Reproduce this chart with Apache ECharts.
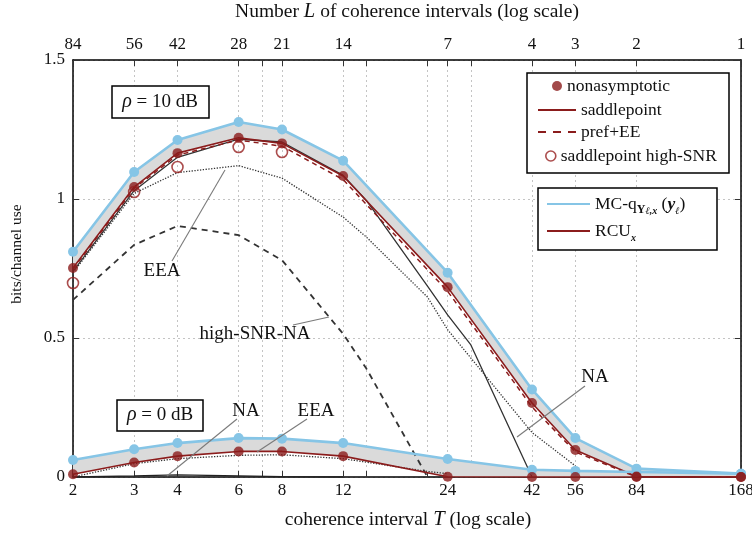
<!DOCTYPE html>
<html><head><meta charset="utf-8">
<script src="https://cdn.jsdelivr.net/npm/echarts@6/dist/echarts.min.js"></script>
<style>html,body{margin:0;padding:0;background:#fff}#c{width:752px;height:534px}</style>
</head><body><div id="c"></div>
<script>
// ---- data (T = coherence interval) ----
const T = [2, 3, 4, 6, 8, 12, 24, 42, 56, 84, 168];
// rho = 10 dB
const mcq10      = [0.81, 1.097, 1.212, 1.277, 1.25, 1.138, 0.735, 0.315, 0.14, 0.03, 0.012];
const nonasym10  = [0.752, 1.043, 1.165, 1.22, 1.2, 1.083, 0.683, 0.266, 0.097, 0.002, 0.0];
const saddle10   = [0.752, 1.043, 1.165, 1.22, 1.2, 1.083, 0.683, 0.266, 0.097, 0.002, 0.0];
const pref10     = [0.748, 1.038, 1.158, 1.212, 1.19, 1.07, 0.668, 0.252, 0.09, 0.0, 0.0];
const highSnrT   = [2, 3, 4, 6, 8];
const highSnr10  = [0.698, 1.025, 1.115, 1.187, 1.169];
const eeaT10     = [2, 3, 4, 6, 8, 12, 14, 21, 24, 42, 56];
const eea10      = [0.735, 1.02, 1.095, 1.12, 1.075, 0.935, 0.863, 0.647, 0.53, 0.16, 0.04];
const naT10      = [2, 3, 4, 6, 8, 12, 14, 21, 24, 28, 42];
const na10       = [0.74, 1.03, 1.15, 1.215, 1.205, 1.085, 0.995, 0.687, 0.583, 0.475, 0.0];
const hsnaT10    = [2, 3, 4, 6, 8, 12, 14, 21];
const hsna10     = [0.637, 0.835, 0.903, 0.87, 0.78, 0.515, 0.39, 0.0];
// rho = 0 dB
const mcq0       = [0.061, 0.10, 0.122, 0.14, 0.138, 0.122, 0.065, 0.026, 0.022, 0.018, 0.012];
const nonasym0   = [0.01, 0.052, 0.075, 0.092, 0.092, 0.075, 0.001, 0.0, 0.0, 0.0, 0.0];
const eeaT0      = [2, 3, 4, 6, 8, 12, 21, 24];
const eea0       = [0.0, 0.048, 0.066, 0.078, 0.08, 0.066, 0.02, 0.012];
const naT0       = [2, 3, 4, 6, 8, 12];
const na0        = [0.0, 0.004, 0.008, 0.004, 0.001, 0.0];
// axis ticks
const bottomTicks  = [2, 3, 4, 6, 7, 8, 12, 14, 21, 24, 28, 42, 56, 84, 168];
const bottomLabels = [2, 3, 4, 6, 8, 12, 24, 42, 56, 84, 168];
const topTicks     = [84, 56, 42, 28, 24, 21, 14, 12, 8, 7, 6, 4, 3, 2, 1];
const topLabels    = [84, 56, 42, 28, 21, 14, 7, 4, 3, 2, 1];

const FONT = 'Liberation Serif';
const RED = '#8b1c1c', BLUE = '#86c5e6', BAND = '#dadada', TXT = '#111';

function pairs(xs, ys) { return xs.map((x, i) => [x, ys[i]]); }
function band(upper, lower) {
  return {
    type: 'custom', silent: true, z: 1, data: [[2, 0]], clip: true,
    renderItem: (p, api) => {
      if (p.dataIndex !== 0) return;
      const pts = [];
      for (let i = 0; i < T.length; i++) pts.push(api.coord([T[i], upper[i]]));
      for (let i = T.length - 1; i >= 0; i--) pts.push(api.coord([T[i], lower[i]]));
      return { type: 'polygon', shape: { points: pts }, style: { fill: BAND } };
    }
  };
}
function line(name, xs, ys, ls, z) {
  return { type: 'line', name: name, data: pairs(xs, ys), symbol: 'none', silent: true,
           lineStyle: ls, itemStyle: { color: ls.color }, z: z || 2, animation: false };
}

const chart = echarts.init(document.getElementById('c'));
const axisLine = { show: true, onZero: false, lineStyle: { color: '#000', width: 1.5 } };
const lblStyle = { fontFamily: FONT, fontSize: 17, color: TXT };

const series = [
  band(mcq10, saddle10),
  band(mcq0, nonasym0),
  line('EEA10', eeaT10, eea10, { color: '#333', width: 1.3, type: [1.3, 1.5] }),
  line('EEA0', eeaT0, eea0, { color: '#333', width: 1.3, type: [1.3, 1.5] }),
  line('hsna10', hsnaT10, hsna10, { color: '#333', width: 1.8, type: [6, 5] }),
  line('NA10', naT10, na10, { color: '#333', width: 1.3 }),
  line('NA0', naT0, na0, { color: '#222', width: 1.3 }),
  line('pref+EE', T, pref10, { color: RED, width: 1.5, type: [5, 4] }, 3),
  line('saddlepoint', T, saddle10, { color: RED, width: 1.6 }, 3),
  line('RCU_x', T, nonasym0, { color: RED, width: 1.6 }, 3),
  { type: 'line', name: 'MC-q', data: pairs(T, mcq10), symbol: 'circle', symbolSize: 10, silent: true,
    lineStyle: { color: BLUE, width: 2.6 }, itemStyle: { color: BLUE }, z: 4, animation: false },
  { type: 'line', name: 'MC-q', data: pairs(T, mcq0), symbol: 'circle', symbolSize: 10, silent: true,
    lineStyle: { color: BLUE, width: 2.6 }, itemStyle: { color: BLUE }, z: 4, animation: false },
  { type: 'scatter', name: 'nonasymptotic', data: pairs(T, nonasym10), symbol: 'circle', symbolSize: 10,
    itemStyle: { color: RED }, silent: true, z: 5, animation: false },
  { type: 'scatter', name: 'nonasymptotic', data: pairs(T, nonasym0), symbol: 'circle', symbolSize: 10,
    itemStyle: { color: RED }, silent: true, z: 5, animation: false },
  { type: 'scatter', name: 'saddlepoint high-SNR', data: pairs(highSnrT, highSnr10), symbol: 'circle', symbolSize: 11,
    itemStyle: { color: 'rgba(255,255,255,0)', borderColor: '#962020', borderWidth: 1.6 }, silent: true, z: 6, animation: false }
];

const LF = 17.5;
const legTxt = {
  fontFamily: FONT, fontSize: LF, color: TXT, lineHeight: 20,
  rich: {
    a: { fontFamily: FONT, fontSize: LF, color: TXT, lineHeight: 24 },
    s: { fontFamily: FONT, fontSize: 12, fontWeight: 'bold', color: TXT, verticalAlign: 'bottom', lineHeight: 13 },
    ss: { fontFamily: FONT, fontSize: 10, fontWeight: 'bold', fontStyle: 'italic', color: TXT, verticalAlign: 'bottom', lineHeight: 11 },
    bi: { fontFamily: FONT, fontSize: LF, fontWeight: 'bold', fontStyle: 'italic', color: TXT, lineHeight: 24 }
  }
};
function legend(name, left, cy, w, h, icon, itemStyle, formatter, hh) {
  const o = { show: true, left: left, top: cy - (hh || 10), padding: 0, orient: 'horizontal', itemWidth: w, itemHeight: h,
    selectedMode: false, z: 10, textStyle: legTxt,
    data: [{ name: name, icon: icon, itemStyle: itemStyle }] };
  if (formatter) o.formatter = formatter;
  return o;
}

const legends = [
  legend('nonasymptotic', 552, 86, 10, 10, 'circle', { color: RED }),
  legend('saddlepoint', 538, 110, 38, 2, 'rect', { color: RED }),
  legend('pref+EE', 538, 132, 38, 2, 'path://M0,0h8v2h-8zM15,0h8v2h-8zM30,0h8v2h-8z', { color: RED }),
  legend('saddlepoint high-SNR', 545, 156, 10, 10, 'circle', { color: '#fff', borderColor: '#962020', borderWidth: 1.6 }),
  legend('MC-q', 547, 204, 43, 2, 'rect', { color: BLUE },
    () => '{a|MC-q}{s|Y}{ss|ℓ,x}{a| (}{bi|y}{ss|ℓ}{a|)}', 12),
  legend('RCU_x', 547, 231, 43, 2, 'rect', { color: RED },
    () => '{a|RCU}{ss|x}', 12)
];

function box(x, y, w, h) {
  return { type: 'rect', shape: { x: x, y: y, width: w, height: h }, z: 8,
           style: { fill: '#fff', stroke: '#000', lineWidth: 1.5 } };
}
function txt(x, y, text, size, extra) {
  const s = size || 18;
  return Object.assign({ type: 'text', x: x, y: y, z: 9,
    style: { text: text, fontFamily: FONT, fontSize: s, fill: TXT, align: 'center', verticalAlign: 'middle',
      rich: { i: { fontFamily: FONT, fontSize: s + 1, fontStyle: 'italic', fill: TXT } } } }, extra || {});
}
function ptr(x1, y1, x2, y2) {
  return { type: 'line', z: 7, shape: { x1: x1, y1: y1, x2: x2, y2: y2 }, style: { stroke: '#7a7a7a', lineWidth: 1.1 } };
}

const graphic = [
  box(527, 73, 202, 100),
  box(538, 188, 179, 62),
  box(112, 86, 97, 32),
  box(117, 400, 86, 31),
  txt(160, 102, '{i|ρ} = 10 dB', 19),
  txt(160, 415, '{i|ρ} = 0 dB', 19),
  txt(407, 12, 'Number {i|L} of coherence intervals (log scale)', 19.5),
  txt(408, 520, 'coherence interval {i|T} (log scale)', 19.5),
  txt(17, 254, 'bits/channel use', 15.5, { rotation: Math.PI / 2 }),
  ptr(172, 261, 225, 170), txt(162, 271, 'EEA', 19),
  ptr(293, 325, 329, 317), txt(255, 334, 'high-SNR-NA', 19),
  ptr(585, 386, 517, 437), txt(595, 377, 'NA', 19),
  ptr(237, 419, 167, 476), txt(246, 411, 'NA', 19),
  ptr(307, 419, 257, 452), txt(316, 411, 'EEA', 19)
];

chart.setOption({
  animation: false,
  backgroundColor: '#fff',
  grid: { left: 73, right: 11, top: 60, bottom: 57, containLabel: false, outerBoundsMode: 'none' },
  xAxis: [
    { type: 'log', min: 2, max: 168, position: 'bottom', axisLine: axisLine,
      axisTick: { show: true, inside: true, length: 6, customValues: bottomTicks, lineStyle: { color: '#333', width: 1 } },
      axisLabel: { show: true, customValues: bottomLabels, formatter: v => String(Math.round(v)), margin: 5, ...lblStyle },
      splitLine: { show: true, lineStyle: { color: '#c4c4c4', width: 1, type: [2, 3] } },
      minorTick: { show: false }, minorSplitLine: { show: false } },
    { type: 'log', min: 1, max: 84, inverse: true, position: 'top', axisLine: axisLine,
      axisTick: { show: true, inside: true, length: 6, customValues: topTicks, lineStyle: { color: '#333', width: 1 } },
      axisLabel: { show: true, customValues: topLabels, formatter: v => String(Math.round(v)), margin: 7, ...lblStyle },
      splitLine: { show: false } }
  ],
  yAxis: [
    { type: 'value', min: 0, max: 1.5, interval: 0.5, position: 'left', axisLine: axisLine,
      axisTick: { show: true, inside: true, length: 6, lineStyle: { color: '#333' } },
      axisLabel: { show: true, margin: 8, ...lblStyle },
      splitLine: { show: true, lineStyle: { color: '#c4c4c4', width: 1, type: [2, 3] } } },
    { type: 'value', min: 0, max: 1.5, interval: 0.5, position: 'right', axisLine: axisLine,
      axisTick: { show: true, inside: true, length: 6, lineStyle: { color: '#333' } },
      axisLabel: { show: false }, splitLine: { show: false } }
  ],
  legend: legends,
  tooltip: { show: false },
  series: series,
  graphic: graphic
});
</script></body></html>
